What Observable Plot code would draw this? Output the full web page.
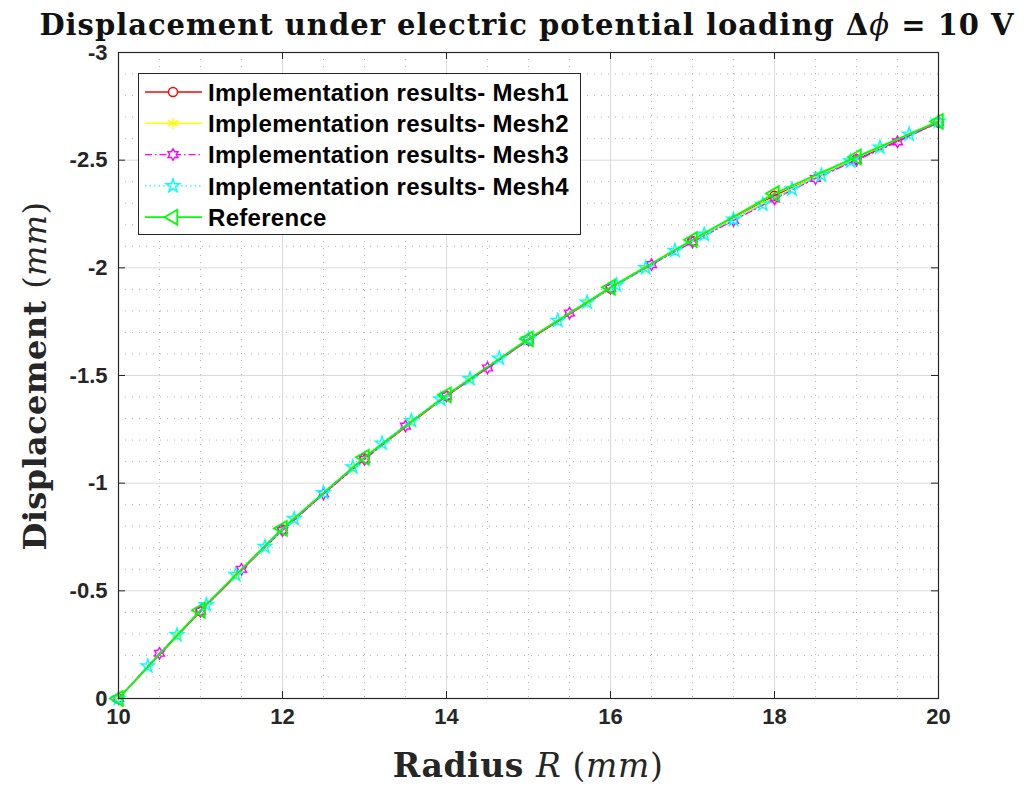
<!DOCTYPE html>
<html>
<head>
<meta charset="utf-8">
<script src="https://cdn.jsdelivr.net/npm/d3@7"></script>
<script src="https://cdn.jsdelivr.net/npm/@observablehq/plot@0.6"></script>
<style>
  body { margin: 0; background: #fff; }
  #chart { position: relative; width: 1024px; height: 788px; }
</style>
</head>
<body>
<div id="chart"></div>
<script>
// ---------------- data ----------------
const titleText = "Displacement under electric potential loading";
const xLabel = "Radius";
const yLabel = "Displacement";

const xTicks = [10, 12, 14, 16, 18, 20];
const yTicks = [0, -0.5, -1, -1.5, -2, -2.5, -3];

const mesh1X = [10, 11, 12, 13, 14, 15, 16, 17, 18, 19, 20];
const mesh1Y = [0, -0.405, -0.785, -1.115, -1.405, -1.665, -1.905, -2.125, -2.335, -2.505, -2.675];

const mesh2X = [10, 10.714, 11.429, 12.143, 12.857, 13.571, 14.286, 15, 15.714, 16.429, 17.143, 17.857, 18.571, 19.286, 20];
const mesh2Y = [0, -0.295, -0.575, -0.835, -1.07, -1.285, -1.485, -1.67, -1.84, -2.0, -2.155, -2.30, -2.435, -2.56, -2.68];

const mesh3X = [10, 10.5, 11, 11.5, 12, 12.5, 13, 13.5, 14, 14.5, 15, 15.5, 16, 16.5, 17, 17.5, 18, 18.5, 19, 19.5, 20];
const mesh3Y = [0, -0.21, -0.405, -0.60, -0.78, -0.95, -1.11, -1.265, -1.405, -1.535, -1.665, -1.79, -1.905, -2.015, -2.12, -2.22, -2.32, -2.415, -2.50, -2.585, -2.675];

const mesh4X = [10, 10.357, 10.714, 11.071, 11.429, 11.786, 12.143, 12.5, 12.857, 13.214, 13.571, 13.929, 14.286, 14.643, 15,
                15.357, 15.714, 16.071, 16.429, 16.786, 17.143, 17.5, 17.857, 18.214, 18.571, 18.929, 19.286, 19.643, 20];
const mesh4Y = [0, -0.150, -0.295, -0.435, -0.575, -0.705, -0.835, -0.955, -1.075, -1.185, -1.29, -1.39, -1.485, -1.58, -1.67,
                -1.755, -1.84, -1.92, -2.0, -2.08, -2.155, -2.225, -2.295, -2.365, -2.43, -2.495, -2.56, -2.62, -2.68];

const refX = [10, 11, 12, 13, 14, 15, 16, 17, 18, 19, 20];
const refY = [0, -0.41, -0.79, -1.12, -1.41, -1.67, -1.91, -2.13, -2.345, -2.515, -2.68];

const seriesNames = [
  "Implementation results- Mesh1",
  "Implementation results- Mesh2",
  "Implementation results- Mesh3",
  "Implementation results- Mesh4",
  "Reference"
];

// ---------------- helpers ----------------
const zip = (xs, ys) => xs.map((x, i) => ({x, y: ys[i]}));

// six-pointed star (hexagram) symbol
const hexagram = {
  draw(ctx, size) {
    const R = Math.sqrt(size / Math.PI) * 1.15;
    const r = R * 0.58;
    for (let i = 0; i < 12; i++) {
      const a = -Math.PI / 2 + i * Math.PI / 6;
      const rr = i % 2 === 0 ? R : r;
      const px = rr * Math.cos(a), py = rr * Math.sin(a);
      if (i === 0) ctx.moveTo(px, py); else ctx.lineTo(px, py);
    }
    ctx.closePath();
  }
};

const styles = [
  {data: zip(mesh1X, mesh1Y), color: "#ff0000", dash: null, symbol: d3.symbolCircle, plotSymbol: "circle", r: 4.5, width: 1.4, rotate: 0},
  {data: zip(mesh2X, mesh2Y), color: "#ffff00", dash: null, symbol: d3.symbolAsterisk, plotSymbol: "asterisk", r: 5.5, width: 1.4, rotate: 0},
  {data: zip(mesh3X, mesh3Y), color: "#ff00ff", dash: "7,3,1.5,3", symbol: hexagram, plotSymbol: hexagram, r: 5, width: 1.4, rotate: 0},
  {data: zip(mesh4X, mesh4Y), color: "#00ffff", dash: "1.5,3", symbol: d3.symbolStar, plotSymbol: "star", r: 4.2, width: 1.4, rotate: 0},
  {data: zip(refX, refY), color: "#00ff00", dash: null, symbol: d3.symbolTriangle, plotSymbol: "triangle", r: 5.5, width: 1.8, rotate: -90}
];

const W = 1024, H = 788;
const mL = 118, mR = 86, mT = 52, mB = 90;
const plotW = W - mL - mR, plotH = H - mT - mB;

const xMinor = d3.range(10, 20.001, 0.5).filter(v => !xTicks.includes(v));
const yMinor = d3.range(0, 30, 1).map(v => -v / 10).filter(v => !yTicks.some(t => Math.abs(t - v) < 1e-9));

const sans = "'Liberation Sans', Arial, Helvetica, sans-serif";
const serif = "'DejaVu Serif', serif";

const marks = [
  // minor dotted grid
  Plot.ruleX(xMinor, {x: d => d, stroke: "#b0b0b0", strokeWidth: 1, strokeDasharray: "1,6"}),
  Plot.ruleY(yMinor, {y: d => d, stroke: "#b0b0b0", strokeWidth: 1, strokeDasharray: "1,6"}),
  // major grid
  Plot.ruleX(xTicks, {x: d => d, stroke: "#dadada", strokeWidth: 1}),
  Plot.ruleY(yTicks, {y: d => d, stroke: "#dadada", strokeWidth: 1}),
];

styles.forEach(s => {
  marks.push(Plot.line(s.data, {x: "x", y: "y", stroke: s.color, strokeWidth: s.width,
    strokeDasharray: s.dash ?? undefined, curve: "linear"}));
  marks.push(Plot.dot(s.data, {x: "x", y: "y", symbol: s.plotSymbol, r: s.r, stroke: s.color,
    fill: "none", strokeWidth: s.width, rotate: s.rotate}));
});

marks.push(
  Plot.frame({stroke: "#262626", strokeWidth: 1.2}),
  // inward tick marks
  Plot.tickX(xTicks, {x: d => d, stroke: "#262626", insetTop: plotH - 7}),
  Plot.tickX(xTicks, {x: d => d, stroke: "#262626", insetBottom: plotH - 7}),
  Plot.tickY(yTicks, {y: d => d, stroke: "#262626", insetRight: plotW - 7}),
  Plot.tickY(yTicks, {y: d => d, stroke: "#262626", insetLeft: plotW - 7}),
  Plot.axisX(xTicks, {tickSize: 0, tickPadding: 10, tickFormat: d => String(d), label: null,
    fontSize: 22, fontWeight: "bold", fontFamily: sans, fill: "#262626"}),
  Plot.axisY(yTicks, {tickSize: 0, tickPadding: 11, tickFormat: d => String(d), label: null,
    fontSize: 22, fontWeight: "bold", fontFamily: sans, fill: "#262626"})
);

const chart = Plot.plot({
  width: W, height: H,
  marginLeft: mL, marginRight: mR, marginTop: mT, marginBottom: mB,
  x: {domain: [10, 20]},
  y: {domain: [0, -3]},
  style: {background: "#fff", overflow: "visible"},
  marks
});
document.getElementById("chart").appendChild(chart);

// ---------------- title, axis labels, legend ----------------
const svg = d3.select(chart);

const title = svg.append("text")
  .attr("x", 527).attr("y", 35)
  .attr("text-anchor", "middle")
  .attr("font-family", serif).attr("font-weight", "bold").attr("font-size", 29)
  .attr("letter-spacing", 1)
  .attr("fill", "#111");
title.append("tspan").text(titleText + " \u0394");
title.append("tspan").attr("font-style", "italic").attr("font-weight", "normal").text("\u03D5");
title.append("tspan").text(" = 10 V");

const xl = svg.append("text")
  .attr("x", 528).attr("y", 777)
  .attr("text-anchor", "middle")
  .attr("font-family", serif).attr("font-size", 33).attr("letter-spacing", 0.6).attr("fill", "#262626");
xl.append("tspan").attr("font-weight", "bold").text(xLabel + " ");
xl.append("tspan").attr("font-style", "italic").text("R");
xl.append("tspan").text(" (");
xl.append("tspan").attr("font-style", "italic").text("mm");
xl.append("tspan").text(")");

const yl = svg.append("text")
  .attr("transform", "translate(46,376) rotate(-90)")
  .attr("text-anchor", "middle")
  .attr("font-family", serif).attr("font-size", 32).attr("letter-spacing", 0.4).attr("fill", "#262626");
yl.append("tspan").attr("font-weight", "bold").text(yLabel + " ");
yl.append("tspan").text("(");
yl.append("tspan").attr("font-style", "italic").text("mm");
yl.append("tspan").text(")");

// legend
const lg = svg.append("g");
lg.append("rect")
  .attr("x", 138.5).attr("y", 73.5).attr("width", 442).attr("height", 161)
  .attr("fill", "#fff").attr("stroke", "#262626").attr("stroke-width", 1);
seriesNames.forEach((name, i) => {
  const s = styles[i];
  const cy = 92 + i * 31.3;
  lg.append("line")
    .attr("x1", 145).attr("x2", 202).attr("y1", cy).attr("y2", cy)
    .attr("stroke", s.color).attr("stroke-width", s.width)
    .attr("stroke-dasharray", s.dash);
  lg.append("path")
    .attr("d", d3.symbol(s.symbol, s.r * s.r * Math.PI)())
    .attr("transform", `translate(173,${cy}) rotate(${s.rotate})`)
    .attr("fill", "#fff").attr("stroke", s.color).attr("stroke-width", s.width);
  lg.append("text")
    .attr("x", 208).attr("y", cy).attr("dy", "0.36em")
    .attr("text-anchor", "start")
    .attr("font-family", sans).attr("font-weight", "bold").attr("font-size", 24)
    .attr("letter-spacing", 0.3)
    .attr("fill", "#000").text(name);
});
</script>
</body>
</html>
